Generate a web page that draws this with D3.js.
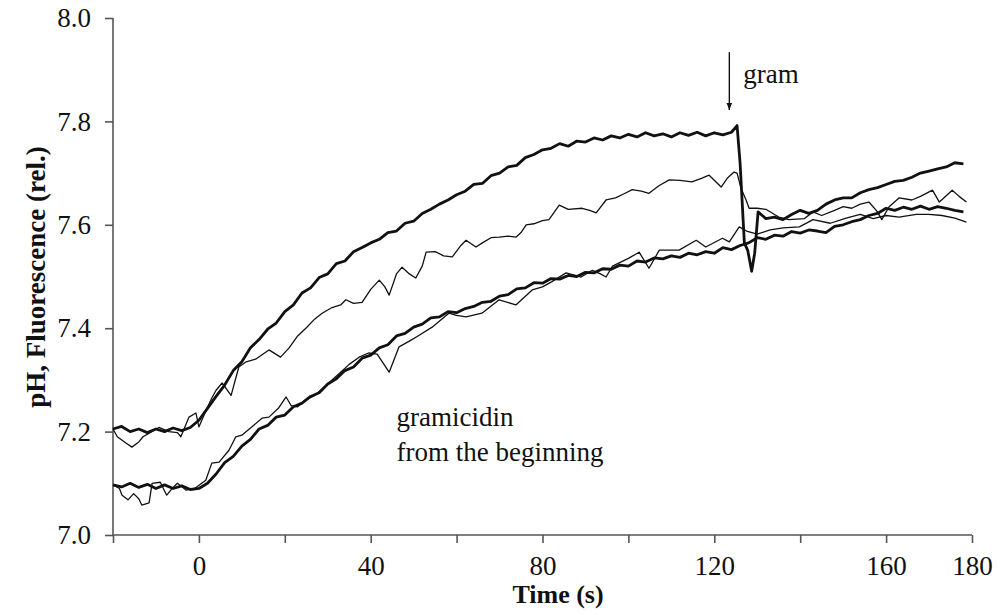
<!DOCTYPE html>
<html>
<head>
<meta charset="utf-8">
<script src="https://cdn.jsdelivr.net/npm/d3@7"></script>
<style>
  body { margin: 0; background: #fff; }
  svg text { font-family: "Liberation Serif", "DejaVu Serif", "Times New Roman", Times, serif; fill: #111; }
</style>
</head>
<body>
<div id="drawing"></div>
<script>
// data: [time (s), pH]
var thickUpper = [
  [-20,7.205],[-18,7.21],[-16,7.2],[-14,7.205],[-12,7.198],[-10,7.205],[-8,7.2],[-6,7.207],[-4,7.202],[-2,7.208],
  [0,7.222],[2,7.245],[4,7.268],[6,7.29],[8,7.318],[10,7.335],[12,7.362],[14,7.378],[16,7.398],[18,7.41],
  [20,7.432],[22,7.445],[24,7.468],[26,7.478],[28,7.498],[30,7.505],[32,7.525],[34,7.53],[36,7.548],[38,7.556],
  [40,7.565],[42,7.572],[44,7.585],[46,7.588],[48,7.603],[50,7.607],[52,7.622],[54,7.63],[56,7.64],[58,7.648],
  [60,7.658],[62,7.665],[64,7.678],[66,7.68],[68,7.695],[70,7.7],[72,7.712],[74,7.715],[76,7.73],[78,7.736],
  [80,7.745],[82,7.748],[84,7.757],[86,7.752],[88,7.762],[90,7.76],[92,7.768],[94,7.764],[96,7.772],[98,7.768],
  [100,7.775],[102,7.77],[104,7.778],[106,7.772],[108,7.776],[110,7.77],[112,7.778],[114,7.773],[116,7.779],[118,7.772],
  [120,7.778],[122,7.774],[124,7.779],[125.3,7.792],[126,7.72],[127,7.565],[127.8,7.55],[128.7,7.51],[129.4,7.545],[130.2,7.625],
  [132,7.612],[134,7.615],[136,7.61],[138,7.62],[140,7.628],[142,7.622],[144,7.628],[146,7.64],[148,7.648],[150,7.652],
  [152,7.652],[154,7.662],[156,7.668],[158,7.672],[160,7.678],[162,7.684],[164,7.686],[166,7.692],[168,7.7],[170,7.704],
  [172,7.708],[174,7.712],[176,7.72],[178,7.718]
];

var thinUpper = [
  [-20,7.205],[-19,7.19],[-17,7.178],[-15.6,7.17],[-14,7.18],[-13,7.19],[-11,7.2],[-9.3,7.208],[-7,7.2],[-5,7.198],
  [-4.2,7.19],[-2.3,7.228],[-0.7,7.236],[0,7.209],[1.6,7.24],[3,7.265],[4,7.28],[5.4,7.294],[7.5,7.27],[9.3,7.325],
  [11,7.335],[13.2,7.34],[16.3,7.358],[19,7.344],[21,7.362],[23,7.385],[24.9,7.4],[27,7.418],[28.7,7.429],[31,7.44],
  [33,7.445],[34.2,7.455],[36,7.448],[38,7.45],[40,7.475],[42,7.493],[43.3,7.48],[44.3,7.464],[46,7.505],[47.3,7.518],
  [49,7.505],[50.5,7.497],[52,7.52],[52.9,7.547],[55,7.548],[57,7.54],[59,7.538],[61,7.56],[62.2,7.57],[64.5,7.557],
  [66,7.565],[68,7.575],[69.9,7.576],[72,7.578],[73.8,7.576],[75,7.585],[76.2,7.6],[78,7.602],[80,7.608],[81.5,7.61],
  [83.9,7.638],[86,7.63],[89.2,7.632],[91,7.628],[92.5,7.623],[94.8,7.648],[97,7.652],[99,7.66],[100.9,7.668],[103,7.665],
  [104.8,7.661],[107,7.675],[109.5,7.687],[112,7.686],[114.8,7.683],[117,7.69],[118.8,7.696],[121.6,7.673],[123,7.69],[124.6,7.702],
  [125.3,7.7],[126.2,7.671],[127.4,7.648],[128.1,7.632],[130,7.632],[132,7.63],[135,7.615],[137.4,7.61],[141,7.612],[143,7.625],
  [145,7.618],[148,7.628],[150,7.635],[152,7.632],[154,7.64],[156,7.644],[158,7.625],[159,7.61],[160.7,7.635],[163,7.652],
  [166,7.648],[168,7.655],[170.8,7.667],[172.4,7.644],[175.4,7.667],[177,7.655],[178.7,7.644]
];

var thickLower = [
  [-20,7.097],[-18,7.093],[-16,7.1],[-14,7.092],[-12,7.098],[-10,7.09],[-8,7.097],[-6,7.09],[-4,7.095],[-2,7.088],
  [0,7.09],[2,7.1],[4,7.118],[6,7.14],[8,7.152],[10,7.172],[12,7.185],[14,7.205],[16,7.212],[18,7.228],
  [20,7.232],[22,7.248],[24,7.255],[26,7.268],[28,7.275],[30,7.292],[32,7.302],[34,7.318],[36,7.325],[38,7.342],
  [40,7.348],[42,7.362],[44,7.368],[46,7.385],[48,7.39],[50,7.402],[52,7.408],[54,7.42],[56,7.422],[58,7.432],
  [60,7.43],[62,7.438],[64,7.442],[66,7.45],[68,7.452],[70,7.462],[72,7.465],[74,7.476],[76,7.478],[78,7.488],
  [80,7.487],[82,7.496],[84,7.495],[86,7.502],[88,7.5],[90,7.508],[92,7.507],[94,7.515],[96,7.514],[98,7.522],
  [100,7.52],[102,7.53],[104,7.528],[106,7.536],[108,7.534],[110,7.54],[112,7.537],[114,7.545],[116,7.542],[118,7.548],
  [120,7.545],[122,7.556],[124,7.552],[126,7.56],[128,7.565],[130,7.575],[132,7.572],[134,7.58],[136,7.578],[138,7.587],
  [140,7.584],[142,7.59],[144,7.588],[146,7.585],[148,7.597],[150,7.6],[152,7.606],[154,7.61],[156,7.618],[158,7.622],
  [160,7.632],[162,7.628],[164,7.634],[166,7.63],[168,7.636],[170,7.63],[172,7.635],[174,7.632],[176,7.628],[178,7.625]
];

var thinLower = [
  [-20,7.097],[-18.5,7.09],[-17.9,7.077],[-16.5,7.068],[-15.2,7.08],[-14,7.07],[-13.3,7.058],[-11.6,7.062],[-10.9,7.1],[-9,7.102],
  [-7.5,7.077],[-6,7.092],[-5,7.1],[-3,7.087],[-1,7.09],[1.6,7.106],[3,7.139],[4.7,7.141],[7,7.164],[8.6,7.19],
  [10,7.193],[12.3,7.209],[14.7,7.226],[16.3,7.228],[18.5,7.245],[20.3,7.267],[21.5,7.25],[23,7.248],[25,7.262],[27,7.27],
  [29,7.285],[31,7.3],[33,7.315],[35,7.33],[37.3,7.344],[39.5,7.352],[41.5,7.35],[44.3,7.315],[46.6,7.364],[49,7.375],
  [51,7.385],[54.3,7.402],[58.2,7.429],[60,7.425],[62.2,7.422],[65.9,7.429],[69.9,7.455],[73.8,7.445],[77.6,7.474],[80,7.48],
  [82.2,7.49],[85.5,7.507],[89,7.499],[91.6,7.512],[93.5,7.505],[94.8,7.499],[96.3,7.52],[100,7.535],[102.5,7.547],[104.8,7.516],
  [107.2,7.551],[111.8,7.551],[115.8,7.57],[118,7.557],[121.9,7.574],[123.5,7.567],[125.8,7.596],[127.5,7.588],[130,7.582],[133,7.59],
  [136,7.594],[139.8,7.596],[143,7.61],[147,7.603],[150.7,7.613],[154,7.62],[157,7.612],[160,7.618],[163,7.615],[167,7.62],
  [170,7.62],[173,7.618],[176,7.613],[178.7,7.605]
];

var xTicks = [-20, 0, 20, 40, 60, 80, 100, 120, 140, 160, 180];
var xLabels = [0, 40, 80, 120, 160, 180];
var yTicks = [7.0, 7.2, 7.4, 7.6, 7.8, 8.0];
var arrowX = 123.5;
var arrowY = [7.934, 7.822];

var serif = '"Liberation Serif", "DejaVu Serif", "Times New Roman", Times, serif';
var width = 1008, height = 615;
var svg = d3.select("#drawing").append("svg")
  .attr("width", width).attr("height", height);

var xScale = d3.scaleLinear().domain([-20, 180]).range([113, 972]);
var yScale = d3.scaleLinear().domain([7, 8]).range([535, 18]);

// axes
var xAxis = svg.append("g")
  .attr("transform", "translate(0," + yScale(7) + ")")
  .call(d3.axisBottom(xScale).tickValues(xTicks).tickSize(8).tickPadding(13)
    .tickFormat(function(d){ return xLabels.indexOf(d) >= 0 ? d : ""; }));

var yAxis = svg.append("g")
  .attr("transform", "translate(" + xScale(-20) + ",0)")
  .call(d3.axisLeft(yScale).tickValues(yTicks).tickSize(8).tickPadding(14)
    .tickFormat(d3.format(".1f")));

[xAxis, yAxis].forEach(function(ax){
  ax.attr("font-family", null).attr("font-size", null);
  ax.select(".domain").attr("stroke", "#555").attr("stroke-width", 1.6);
  ax.selectAll(".tick line").attr("stroke", "#555").attr("stroke-width", 1.6);
  ax.selectAll("text").style("font-family", serif).style("font-size", "27px").attr("fill", "#111");
});
// the domain path ends with outer ticks; remove them
xAxis.select(".domain").attr("d", "M" + xScale(-20) + ",0H" + xScale(180));
yAxis.select(".domain").attr("d", "M0," + yScale(7) + "V" + yScale(8));

// lines
var line = d3.line()
  .x(function(d){ return xScale(d[0]); })
  .y(function(d){ return yScale(d[1]); });

var series = [
  {data: thinUpper, w: 1.3},
  {data: thinLower, w: 1.3},
  {data: thickLower, w: 2.8},
  {data: thickUpper, w: 2.8}
];
svg.selectAll(".trace")
  .data(series)
  .enter().append("path")
  .attr("class", "trace")
  .attr("d", function(d){ return line(d.data); })
  .attr("fill", "none")
  .attr("stroke", "#111")
  .attr("stroke-width", function(d){ return d.w; })
  .attr("stroke-linejoin", "round");

// arrow for gramicidin addition
svg.append("defs").append("marker")
  .attr("id", "head")
  .attr("viewBox", "0 0 10 10")
  .attr("refX", 10).attr("refY", 5)
  .attr("markerWidth", 7).attr("markerHeight", 7)
  .attr("markerUnits", "userSpaceOnUse")
  .attr("orient", "auto")
  .append("path").attr("d", "M0,1L10,5L0,9Z").attr("fill", "#111");

svg.append("line")
  .attr("x1", xScale(arrowX)).attr("x2", xScale(arrowX))
  .attr("y1", yScale(arrowY[0])).attr("y2", yScale(arrowY[1]))
  .attr("stroke", "#111").attr("stroke-width", 1.4)
  .attr("marker-end", "url(#head)");

svg.append("text")
  .attr("x", xScale(arrowX) + 14).attr("y", yScale(7.875))
  .style("font-family", serif).style("font-size", "27px")
  .text("gram");

// annotation
var note = svg.append("text")
  .attr("x", xScale(46)).attr("y", yScale(7.21))
  .style("font-family", serif).style("font-size", "27px");
note.append("tspan").text("gramicidin");
note.append("tspan").attr("x", xScale(46)).attr("dy", 35).text("from the beginning");

// axis titles
svg.append("text")
  .attr("x", 558).attr("y", 603)
  .attr("text-anchor", "middle")
  .style("font-family", serif).style("font-size", "26px").style("font-weight", "bold")
  .text("Time (s)");

svg.append("text")
  .attr("transform", "translate(45," + 277 + ") rotate(-90)")
  .attr("text-anchor", "middle")
  .style("font-family", serif).style("font-size", "27px").style("font-weight", "bold")
  .text("pH, Fluorescence (rel.)");
</script>
</body>
</html>
